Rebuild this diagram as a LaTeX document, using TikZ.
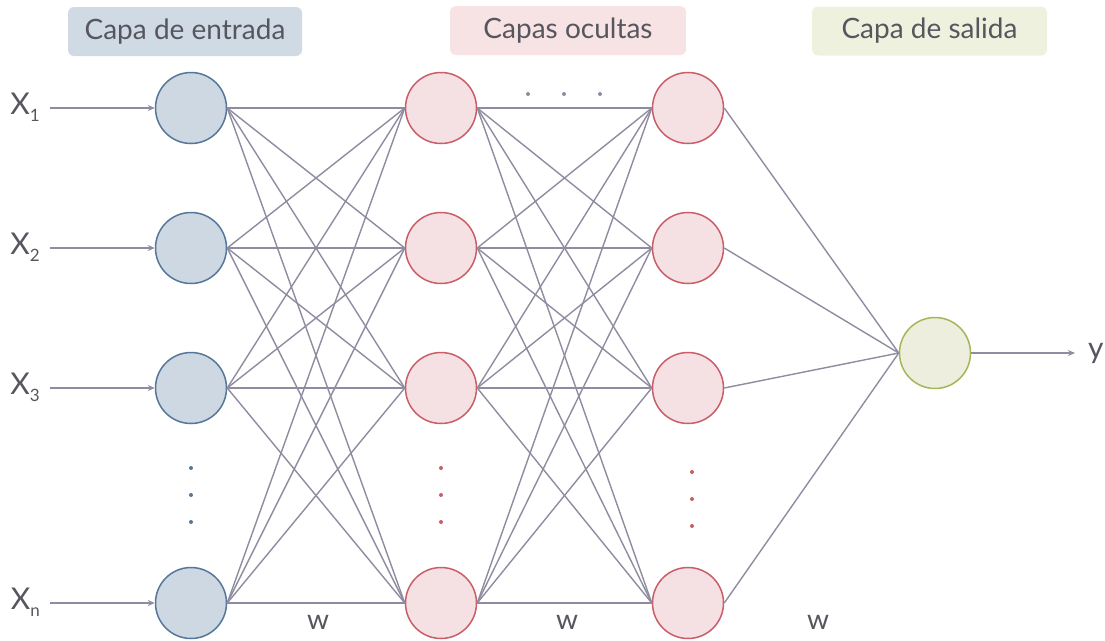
\documentclass[tikz,border=0pt]{standalone}
\usepackage{fontspec}
\setmainfont{Lato}
\usetikzlibrary{arrows.meta}
\definecolor{txt}{HTML}{56565F}
\definecolor{edge}{HTML}{8E8CA0}
\definecolor{inFill}{HTML}{CDD8E2}
\definecolor{inLine}{HTML}{54779A}
\definecolor{hidFill}{HTML}{F5E1E4}
\definecolor{hidLine}{HTML}{C95D68}
\definecolor{outFill}{HTML}{EEEEDF}
\definecolor{outLine}{HTML}{A5B657}
\definecolor{hdrIn}{HTML}{D0DAE5}
\definecolor{hdrHid}{HTML}{F7E2E4}
\definecolor{hdrOut}{HTML}{EFF1DF}
\tikzset{
  neuron/.style={circle, minimum size=71pt, inner sep=0pt, line width=1.5pt},
  inneuron/.style={neuron, draw=inLine, fill=inFill},
  hidneuron/.style={neuron, draw=hidLine, fill=hidFill},
  outneuron/.style={neuron, draw=outLine, fill=outFill},
  header/.style={rounded corners=6pt, minimum height=49pt, text=txt, font=\fontsize{28}{32}\selectfont},
  conn/.style={draw=edge, line width=1.4pt},
  feed/.style={conn, -{Stealth[length=7pt,width=6pt]}},
  lbl/.style={text=txt, font=\fontsize{30}{34}\selectfont},
  wlbl/.style={text=txt, font=\fontsize{28}{30}\selectfont},
  vdot/.style={circle, inner sep=0pt, minimum size=4pt},
}
\begin{document}
\begin{tikzpicture}[x=1pt, y=-1pt]
\useasboundingbox (0,0) rectangle (1105,640);

% layer headers
\node[header, fill=hdrIn, minimum width=234pt] (hIn) at (185,31.5) {Capa de entrada};
\node[header, fill=hdrHid, minimum width=236pt] (hHid) at (568,30.5) {Capas ocultas};
\node[header, fill=hdrOut, minimum width=235pt] (hOut) at (929.5,31) {Capa de salida};

% neurons
\foreach \r/\yy in {1/108, 2/248, 3/388, 4/603} {
  \node[inneuron]  (i\r) at (191,\yy) {};
  \node[hidneuron] (a\r) at (441,\yy) {};
  \node[hidneuron] (b\r) at (688,\yy) {};
}
\node[outneuron] (o) at (935,353) {};

% weighted connections
\foreach \p in {1,2,3,4} {
  \foreach \q in {1,2,3,4} {
    \draw[conn] (i\p.east) -- (a\q.west);
    \draw[conn] (a\p.east) -- (b\q.west);
  }
  \draw[conn] (b\p.east) -- (o.west);
}

% inputs
\foreach \r/\yy/\s in {1/108/1, 2/248/2, 3/388/3, 4/603/n} {
  \coordinate (src\r) at (50,\yy);
  \node[lbl, anchor=east, inner sep=0pt] (x\r) at (40,\yy-1) {X\raisebox{-0.45ex}{\fontsize{17}{20}\selectfont \s}};
  \draw[feed] (src\r) -- (i\r.west);
}

% output
\coordinate (dst) at (1075,353);
\draw[feed] (o.east) -- (dst);
\node[lbl, anchor=west, inner sep=0pt] (yout) at (1088,353) {y};

% weight labels
\node[wlbl] (w1) at (318,622) {w};
\node[wlbl] (w2) at (567,622) {w};
\node[wlbl] (w3) at (818,622) {w};

% ellipsis dots
\foreach \k/\yy in {1/468, 2/495, 3/522} {
  \node[vdot, fill=inLine] (di\k) at (191,\yy) {};
  \node[vdot, fill=hidLine] (da\k) at (441,\yy) {};
  \node[vdot, fill=hidLine] (db\k) at (692,\yy+4) {};
}
\foreach \k/\xx in {1/528, 2/564, 3/600} {
  \node[vdot, fill=edge] (dh\k) at (\xx,94) {};
}
\end{tikzpicture}
\end{document}
